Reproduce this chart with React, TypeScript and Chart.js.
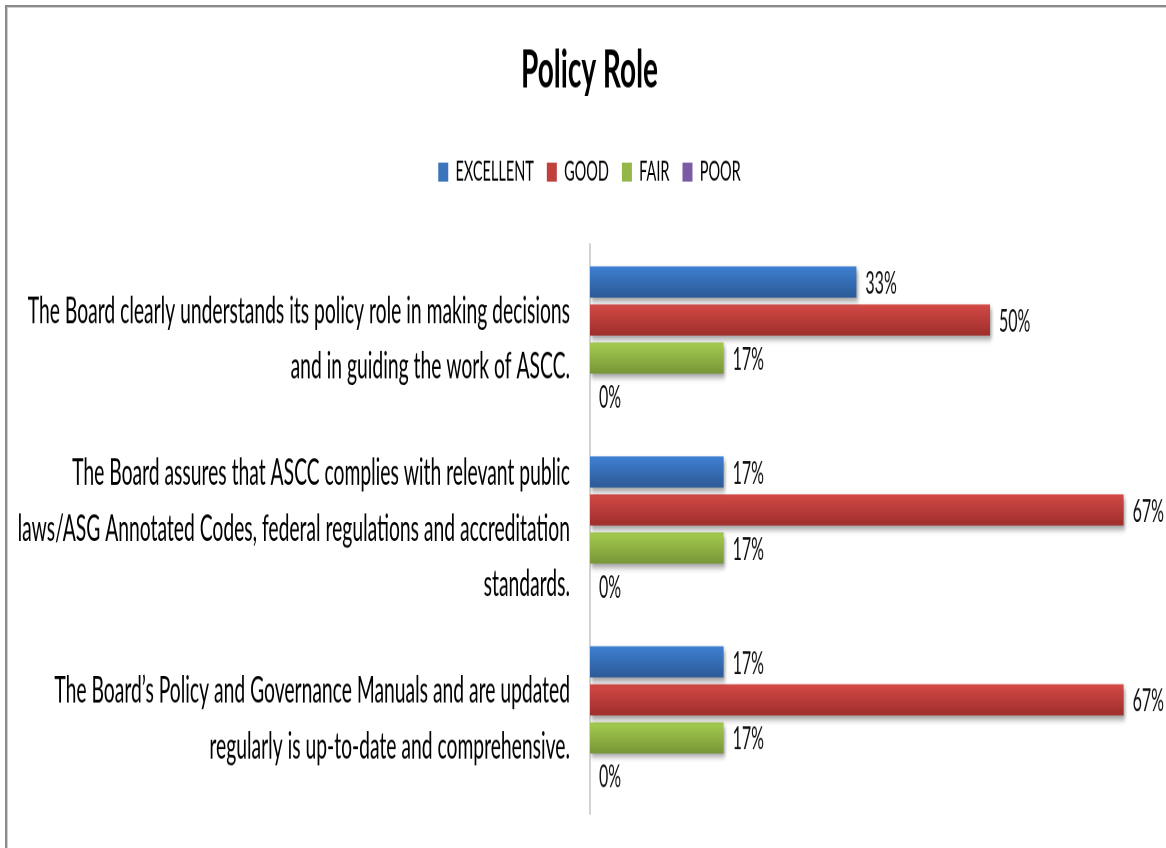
import React, { useEffect, useRef } from "react";
import { Chart, registerables } from "chart.js";

Chart.register(...registerables);

// ---------- data ----------
const categories: string[][] = [
  ["The Board clearly understands its policy role in making decisions", "and in guiding the work of ASCC."],
  [
    "The Board assures that ASCC complies with relevant public",
    "laws/ASG Annotated Codes, federal regulations and accreditation",
    "standards.",
  ],
  ["The Board\u2019s Policy and Governance Manuals and are updated", "regularly is up-to-date and comprehensive."],
];
const seriesNames = ["EXCELLENT", "GOOD", "FAIR", "POOR"];
const excellentValues = [33.3, 16.7, 16.7];
const goodValues = [50, 66.7, 66.7];
const fairValues = [16.7, 16.7, 16.7];
const poorValues = [0, 0, 0];
const chartTitle = "Policy Role";
const xMax = 72;

// ---------- styles ----------
const FONT = "Lato, 'Liberation Sans', sans-serif";
const W = 1166;
const H = 446;
const PAD_LEFT = 13;
const STRETCH = 848 / H; // the reference picture is stretched vertically
const baseColors = ["#3b74bd", "#c0403c", "#94b74a", "#7d5aa6"];
const gradColors = [
  ["#3f80d2", "#2c5a97"],
  ["#d44a46", "#9e2e2b"],
  ["#a6cd50", "#779637"],
  ["#8b69ba", "#5f4386"],
];

const barFx = {
  id: "barFx",
  beforeDatasetsDraw(chart: any) {
    const ctx = chart.ctx;
    chart.data.datasets.forEach((_ds: any, di: number) => {
      const meta = chart.getDatasetMeta(di);
      meta.data.forEach((el: any) => {
        if (el.y == null || !el.height) return;
        const g = ctx.createLinearGradient(0, el.y - el.height / 2, 0, el.y + el.height / 2);
        g.addColorStop(0, gradColors[di][0]);
        g.addColorStop(1, gradColors[di][1]);
        try {
          el.options.backgroundColor = g;
        } catch (e) {
          /* ignore */
        }
      });
    });
    ctx.save();
    ctx.shadowColor = "rgba(0,0,0,0.38)";
    ctx.shadowBlur = 6;
    ctx.shadowOffsetX = 3;
    ctx.shadowOffsetY = 4;
  },
  afterDatasetsDraw(chart: any) {
    const ctx = chart.ctx;
    ctx.restore();
    ctx.save();
    ctx.font = `16px ${FONT}`;
    ctx.fillStyle = "#111";
    ctx.textAlign = "left";
    ctx.textBaseline = "middle";
    chart.data.datasets.forEach((ds: any, di: number) => {
      const meta = chart.getDatasetMeta(di);
      meta.data.forEach((el: any, i: number) => {
        const v = ds.data[i];
        ctx.fillText(`${Math.round(v)}%`, el.x + 9, el.y + 1);
      });
    });
    ctx.restore();
  },
};

export default function App() {
  const ref = useRef<HTMLCanvasElement | null>(null);

  useEffect(() => {
    const canvas = ref.current;
    if (!canvas) return;
    canvas.width = W;
    canvas.height = H;
    canvas.style.width = "";
    canvas.style.height = "";
    const values = [excellentValues, goodValues, fairValues, poorValues];
    const chart = new Chart(canvas, {
      type: "bar",
      data: {
        labels: categories,
        datasets: seriesNames.map((name, di) => ({
          label: name,
          data: values[di],
          backgroundColor: (c: any) => baseColors[c.datasetIndex ?? di],
          borderWidth: 0,
          categoryPercentage: 0.8,
          barPercentage: 0.82,
        })),
      },
      options: {
        indexAxis: "y",
        animation: false,
        responsive: false,
        devicePixelRatio: 2,
        layout: { padding: { top: 0, right: 0, bottom: 18, left: PAD_LEFT } },
        events: [],
        plugins: {
          tooltip: { enabled: false },
          title: {
            display: true,
            text: chartTitle,
            color: "#000",
            font: { family: FONT, size: 28, weight: "bold" },
            padding: { top: 20, bottom: 16.7 },
          },
          subtitle: {
            display: true,
            text: "",
            weight: 500,
            font: { family: FONT, size: 20.6, lineHeight: 1 },
            padding: 0,
          },
          legend: {
            position: "top",
            labels: {
              boxWidth: 10,
              boxHeight: 10,
              padding: 13,
              color: "#111",
              font: { family: FONT, size: 14.5 },
              generateLabels: (ch: any) =>
                ch.data.datasets.map((ds: any, i: number) => ({
                  text: ds.label,
                  fillStyle: baseColors[i],
                  strokeStyle: baseColors[i],
                  lineWidth: 0,
                  hidden: false,
                  datasetIndex: i,
                })),
            },
          },
        },
        scales: {
          x: {
            display: false,
            min: 0,
            max: xMax,
          },
          y: {
            grid: { display: false, drawTicks: false },
            border: { display: true, color: "#a6a6a6", width: 1 },
            ticks: {
              color: "#000",
              padding: 20,
              font: { family: FONT, size: 19.3, lineHeight: 1.52 },
            },
            afterFit: (s: any) => {
              s.width = 590 - PAD_LEFT;
              s.paddingTop = 0;
              s.paddingBottom = 0;
            },
          },
        },
      },
      plugins: [barFx],
    } as any);
    return () => chart.destroy();
  }, []);

  return (
    <div style={{ position: "fixed", left: 0, top: 0, width: 1166, height: 848, overflow: "hidden", background: "#fff" }}>
      <div
        style={{
          position: "absolute",
          left: 5,
          top: 5,
          width: 1300,
          height: 1000,
          borderTop: "2px solid #8a8a8a",
          borderLeft: "2px solid #8a8a8a",
          boxShadow: "inset 1px 1px 0 #cfcfcf",
        }}
      />
      <div
        style={{
          position: "absolute",
          left: 0,
          top: 0,
          width: W,
          height: H,
          transform: `scaleY(${STRETCH})`,
          transformOrigin: "0 0",
        }}
      >
        <canvas ref={ref} />
      </div>
    </div>
  );
}
